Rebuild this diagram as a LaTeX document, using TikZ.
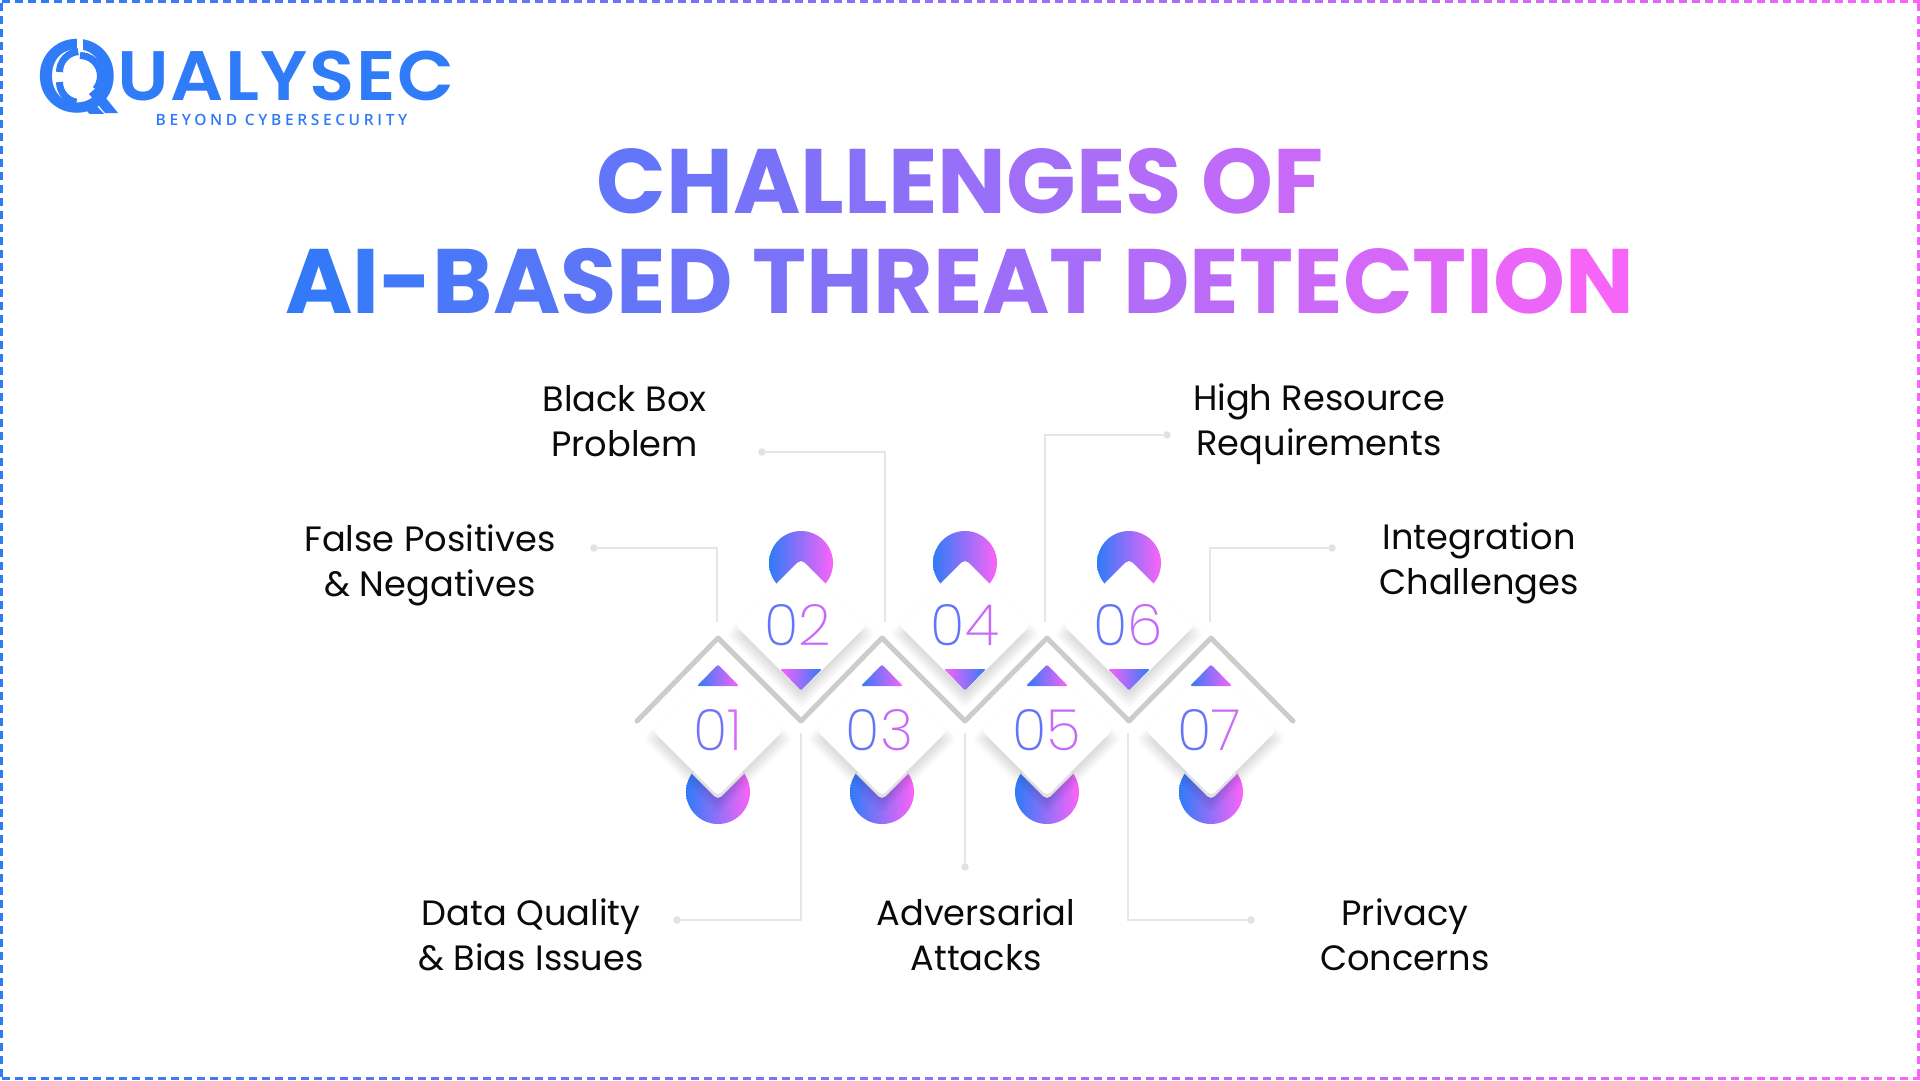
\documentclass[tikz,border=0pt]{standalone}
\usepackage{fontspec}
\setmainfont{Poppins}
\newfontfamily\numfont{Poppins ExtraLight}
\newfontfamily\logoA{Poppins Medium}
\newfontfamily\logoB[LetterSpace=2.4,FakeStretch=1.06]{Poppins SemiBold}
\newfontfamily\tagfont[LetterSpace=23.4]{Open Sans Semibold}
\usetikzlibrary{shapes.geometric}
\definecolor{blu}{HTML}{2F7BF8}
\definecolor{mag}{HTML}{FB63F8}
\definecolor{linegrey}{HTML}{E6E6E6}
\definecolor{zig}{HTML}{CCCCCC}
\definecolor{band}{HTML}{E2E2E2}
\definecolor{inkc}{HTML}{0A0A0A}
\ExplSyntaxOn
\dim_new:N \l_gr_total_dim
\dim_new:N \l_gr_placed_dim
\dim_new:N \l_gr_w_dim
\dim_new:N \l_gr_c_dim
\tl_new:N \l_gr_prefix_tl
\tl_new:N \l_gr_col_tl
\NewDocumentCommand \gradrun { m m m }
  {
    \hbox_set:Nn \l_tmpa_box { \tl_replace_all_spaces:n {#3} }
    \dim_set:Nn \l_gr_total_dim { \box_wd:N \l_tmpa_box }
    \dim_zero:N \l_gr_placed_dim
    \tl_clear:N \l_gr_prefix_tl
    \str_map_inline:nn {#3}
      {
        \str_if_eq:nnTF {##1} {+}
          {
            \tl_put_right:Nn \l_gr_prefix_tl { \c_space_token }
            \hbox_set:Nn \l_tmpa_box { \l_gr_prefix_tl }
            \dim_set:Nn \l_gr_w_dim { \box_wd:N \l_tmpa_box }
            \skip_horizontal:n { \l_gr_w_dim - \l_gr_placed_dim }
            \dim_set_eq:NN \l_gr_placed_dim \l_gr_w_dim
          }
          {
            \tl_put_right:Nn \l_gr_prefix_tl {##1}
            \hbox_set:Nn \l_tmpa_box { \l_gr_prefix_tl }
            \dim_set:Nn \l_gr_w_dim { \box_wd:N \l_tmpa_box }
            \hbox_set:Nn \l_tmpa_box {##1}
            \dim_set:Nn \l_gr_c_dim { \box_wd:N \l_tmpa_box }
            \skip_horizontal:n { \l_gr_w_dim - \l_gr_c_dim - \l_gr_placed_dim }
            \tl_set:Nx \l_gr_col_tl
              { mag!\fp_eval:n { round( #1 + (#2 - #1) * (\l_gr_placed_dim + 0.5*\l_gr_c_dim) / \l_gr_total_dim , 2) }!blu }
            \textcolor{\l_gr_col_tl}{##1}
            \dim_set_eq:NN \l_gr_placed_dim \l_gr_w_dim
          }
      }
  }
\cs_new:Npn \tl_replace_all_spaces:n #1
  { \__gr_sp:w #1 + \q_stop }
\cs_new:Npn \__gr_sp:w #1 + #2 \q_stop
  { #1 \tl_if_empty:nF {#2} { \c_space_token \__gr_sp:w #2 \q_stop } }
\ExplSyntaxOff
\tikzset{
  px/.style={x=1pt,y=-1pt},
  wire/.style={draw=linegrey,line width=1.5pt},
  tipdot/.style={circle,fill=band,inner sep=0pt,minimum size=7.5pt},
  label/.style={align=center,text=inkc,font=\fontsize{35.2}{45.3}\selectfont,inner sep=0pt},
  titleline/.style={anchor=base,inner sep=0pt,font=\fontsize{91.5}{93}\selectfont\bfseries},
  whitedia/.style={diamond,fill=white,inner sep=0pt,minimum size=132pt,rounded corners=5pt,aspect=1,font=\fontsize{57}{57}\selectfont\numfont},
  softdia/.style={diamond,fill=black,fill opacity=0.0065,inner sep=0pt,rounded corners=6pt,aspect=1},
  banddia/.style={diamond,fill=band,inner sep=0pt,minimum size=130pt,rounded corners=5pt,aspect=1},
  grad/.style={left color=blu,right color=mag,draw=none},
  gradrev/.style={left color=mag,right color=blu,draw=none},
}
\newcommand\softshadow[2]{%
  \foreach \s in {120,122,...,152}{\node[softdia,minimum size=\s pt] at (#1,#2+9) {};}}
\begin{document}
\begin{tikzpicture}[px]
\useasboundingbox (0,0) rectangle (1920,1080);
\fill[white] (0,0) rectangle (1920,1080);
% border
\draw[blu,line width=3pt,dash pattern=on 8pt off 5pt] (1.5,3) -- (1.5,1080);
\draw[mag,line width=3pt,dash pattern=on 8pt off 5pt] (1918.5,3) -- (1918.5,1080);
\foreach \i in {0,...,147}{
  \pgfmathsetmacro\xa{\i*13+2}
  \pgfmathsetmacro\pc{\xa/19.2}
  \draw[color=mag!\pc!blu,line width=3pt] (\xa,1.5) -- ++(8,0);
  \draw[color=mag!\pc!blu,line width=3pt] (\xa,1078.5) -- ++(8,0);
}
% logo
\node[anchor=base west,inner sep=0pt,text=blu] (logo) at (36,100) {{\logoA\fontsize{104}{104}\selectfont\raisebox{-12pt}{Q}}{\logoB\fontsize{70}{70}\selectfont\hspace{-1pt}UALYSEC}};
\fill[white] (76.5,37) rectangle (83,52);
\fill[white] (60,114) rectangle (130,130);
\fill[blu] (89,94) -- (97,87) -- (118,113) -- (105,113) -- cycle;
\draw[blu,line width=7pt] (80,55.5) arc[start angle=-90,end angle=40,radius=20.5];
\draw[blu,line width=7pt] (59.5,72) arc[start angle=-180,end angle=-95,radius=20.5];
\draw[blu,line width=7pt] (59.5,82) arc[start angle=-180,end angle=-260,radius=20.5];
\node[anchor=base west,inner sep=0pt,text=blu] (tag) at (155.5,125) {\tagfont\fontsize{15.5}{15.5}\selectfont BEYOND CYBERSECURITY};
% title
\node[titleline] (t1line) at (960,213) {\gradrun{23.2}{76.8}{CHALLENGES+OF}};
\node[titleline] (t2line) at (960,313) {\gradrun{0}{100}{AI-BASED+THREAT+DETECTION}};
% labels
\node[label] (l1) at (430,565.5) {False Positives\\\& Negatives};
\node[label] (l2) at (624.5,421) {Black Box\\Problem};
\node[label] (l3) at (531,935) {Data Quality\\\& Bias Issues};
\node[label] (l4) at (1319,424.5) {High Resource\\Requirements};
\node[label] (l5) at (976,935) {Adversarial\\Attacks};
\node[label] (l6) at (1479,563.5) {Integration\\Challenges};
\node[label] (l7) at (1405,935) {Privacy\\Concerns};
% zigzag points
\coordinate (p1) at (718,638);\coordinate (p3) at (882,638);\coordinate (p5) at (1047,638);\coordinate (p7) at (1211,638);
\coordinate (v2) at (801,721);\coordinate (v4) at (965,721);\coordinate (v6) at (1129,721);
\coordinate (zs) at (637,721);\coordinate (ze) at (1293,721);
% circles
\foreach \x in {718,882,1047,1211}{\shade[grad] (\x,792) circle[radius=32];}
\foreach \x in {801,965,1129}{\shade[grad] (\x,563) circle[radius=32];}
% shadows
\foreach \x in {718,882,1047,1211}{
  \softshadow{\x}{730}
  \begin{scope}\clip (\x,792) circle[radius=32];\node[banddia] at (\x,735) {};\end{scope}
}
\foreach \x in {801,965,1129}{\softshadow{\x}{625}}
% zigzag
\draw[zig,line width=5pt,line cap=round,line join=round] (zs) -- (p1) -- (v2) -- (p3) -- (v4) -- (p5) -- (v6) -- (p7) -- (ze);
% diamonds
\node[whitedia] (d1) at (718,730) {\gradrun{0}{100}{01}};
\node[whitedia] (d2) at (801,625) {\hspace*{-6pt}\gradrun{0}{100}{02}};
\node[whitedia] (d3) at (882,730) {\hspace*{-5pt}\gradrun{0}{100}{03}};
\node[whitedia] (d4) at (965,625) {\gradrun{0}{100}{04}};
\node[whitedia] (d5) at (1047,730) {\gradrun{0}{100}{05}};
\node[whitedia] (d6) at (1129,625) {\hspace*{-1pt}\gradrun{0}{100}{06}};
\node[whitedia] (d7) at (1211,730) {\hspace*{-3pt}\gradrun{0}{100}{07}};
% triangles
\foreach \x in {718,882,1047,1211}{\shade[grad,rounded corners=2pt] (\x-21,686) -- (\x,664.5) -- (\x+21,686) -- cycle;}
\foreach \x in {801,965,1129}{\shade[gradrev,rounded corners=2pt] (\x-21,669) -- (\x,690.5) -- (\x+21,669) -- cycle;}
% connectors
\node[tipdot] (t1) at (594,548) {};
\node[tipdot] (t2) at (762,452) {};
\node[tipdot] (t3) at (677,920) {};
\node[tipdot] (t4) at (1167,435) {};
\node[tipdot] (t5) at (965,867) {};
\node[tipdot] (t6) at (1332,548) {};
\node[tipdot] (t7) at (1251,920) {};
\coordinate (e1) at (717,622);\coordinate (e2) at (885,622);\coordinate (e3) at (801,733);
\coordinate (e4) at (1045,622);\coordinate (e5) at (965,733);\coordinate (e6) at (1210,622);\coordinate (e7) at (1128,733);
\draw[wire] (t1) -| (e1);
\draw[wire] (t2) -| (e2);
\draw[wire] (t3) -| (e3);
\draw[wire] (t4) -| (e4);
\draw[wire] (t5) -- (e5);
\draw[wire] (t6) -| (e6);
\draw[wire] (t7) -| (e7);
\end{tikzpicture}
\end{document}
